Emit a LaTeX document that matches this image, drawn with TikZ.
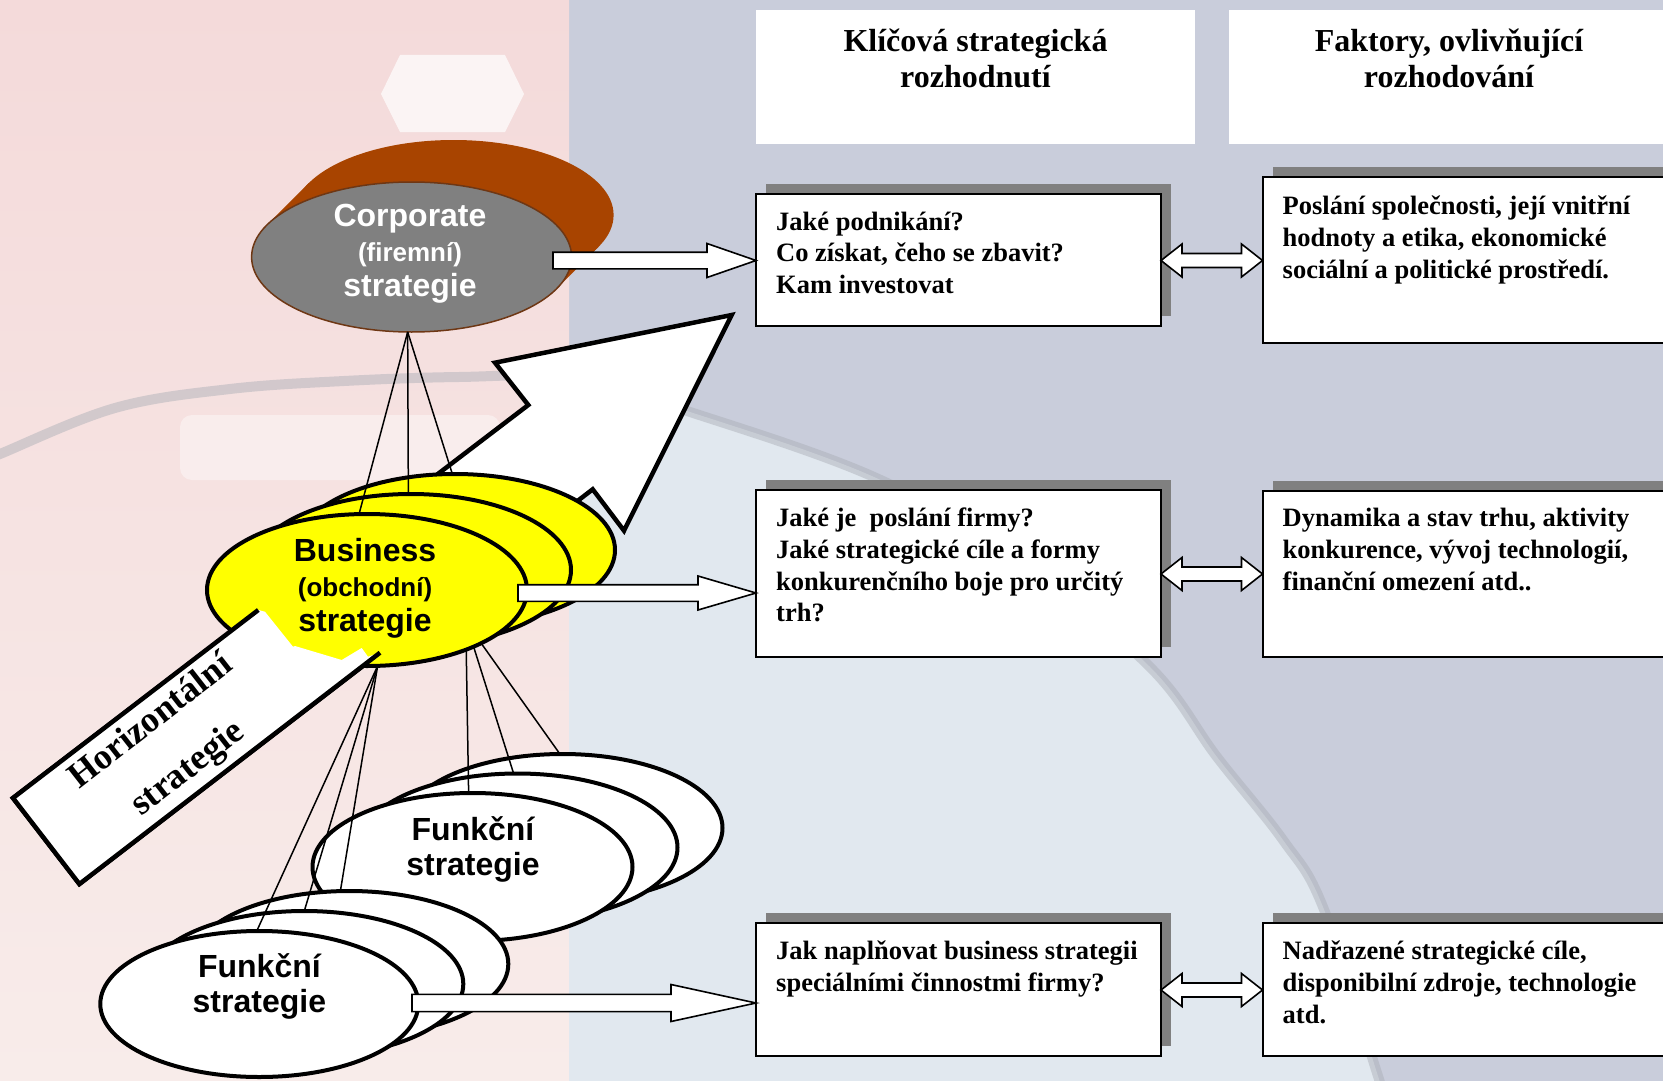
\documentclass[tikz,border=0pt]{standalone}
\usepackage{fontspec}
\setmainfont{Liberation Serif}
\setsansfont{Liberation Sans}
\usetikzlibrary{calc,shapes.geometric,shadows}

\definecolor{bgblue}{RGB}{201,205,219}
\definecolor{pinktop}{RGB}{244,218,218}
\definecolor{pinkbot}{RGB}{248,236,234}
\definecolor{globelight}{RGB}{230,237,243}
\definecolor{arcgray}{RGB}{168,172,180}
\definecolor{shadowgray}{RGB}{128,128,128}
\definecolor{corpgray}{RGB}{128,128,128}
\definecolor{corpbrown}{RGB}{168,68,0}
\definecolor{corprim}{RGB}{110,55,20}
\definecolor{bizyellow}{RGB}{255,255,0}

% wide hollow arrow: tail, tip, head length, head half-height, shaft half-height
\newcommand{\blockarrow}[5]{%
  \draw[rowarrow] ($(#1)+(0,-#5)$) -- ($(#2)+(-#3,-#5)$) -- ($(#2)+(-#3,-#4)$) -- (#2)
     -- ($(#2)+(-#3,#4)$) -- ($(#2)+(-#3,#5)$) -- ($(#1)+(0,#5)$) -- cycle;}
% hollow double-headed arrow between two tips
\newcommand{\twowayarrow}[2]{%
  \draw[rowarrow] (#1) -- ($(#1)+(21,-16.5)$) -- ($(#1)+(21,-7)$) -- ($(#2)+(-21,-7)$)
     -- ($(#2)+(-21,-16.5)$) -- (#2) -- ($(#2)+(-21,16.5)$) -- ($(#2)+(-21,7)$)
     -- ($(#1)+(21,7)$) -- ($(#1)+(21,16.5)$) -- cycle;}

\begin{document}
\begin{tikzpicture}[x=1pt,y=-1pt,
  hdrbox/.style={anchor=north west,fill=white,draw=none,inner sep=0pt,outer sep=0pt},
  hdrtext/.style={anchor=north,inner sep=0pt,align=center,
    font=\fontsize{32}{36.5}\selectfont\bfseries},
  qbox/.style={anchor=north west,fill=white,draw=black,line width=2pt,inner sep=0pt,outer sep=0pt,
    general shadow={shadow xshift=10pt,shadow yshift=10pt,fill=shadowgray}},
  boxtext/.style={anchor=north west,inner sep=0pt,align=left,
    font=\fontsize{26.5}{31.6}\selectfont\bfseries},
  stratoval/.style={ellipse,draw=black,line width=4pt,inner sep=0pt,outer sep=0pt,
    minimum width=320pt,minimum height=152pt},
  ovaltext/.style={inner sep=0pt,align=center,font=\sffamily\bfseries\fontsize{32}{35}\selectfont},
  link/.style={draw=black,line width=1.5pt},
  rowarrow/.style={fill=white,draw=black,line width=1.6pt,line join=miter},
  bigarrow/.style={fill=white,draw=black,line width=4.5pt,line join=miter}
]
\useasboundingbox (0,0) rectangle (1663,1081);
\clip (0,0) rectangle (1663,1081);

% ---------- background ----------
\fill[bgblue] (0,0) rectangle (1663,1081);
\shade[top color=pinktop,bottom color=pinkbot] (0,0) rectangle (569,1081);
\begin{scope}
  \clip (569,0) rectangle (1663,1081);
  \fill[globelight,opacity=0.85] plot[smooth,tension=0.6] coordinates {(459,377) (574,378) (684,410)
    (874,477) (1020,560) (1150,667) (1217,757) (1283,840) (1323,907) (1377,1073) (1385,1100)}
    -- (1385,1100) -- (459,1100) -- cycle;
\end{scope}
\draw[arcgray,line width=10pt,opacity=0.45,line cap=round] plot[smooth,tension=0.6] coordinates {(-10,458)
  (0,454) (115,408) (230,389) (344,381) (459,377) (574,378) (684,410) (874,477) (1020,560)
  (1150,667) (1217,757) (1283,840) (1323,907) (1377,1073) (1385,1100)};
\fill[white,opacity=0.7] (400,55) -- (505,55) -- (524,94) -- (505,132) -- (400,132) -- (381,94) -- cycle;
\fill[white,opacity=0.4,rounded corners=12pt] (180,415) rectangle (500,480);

% ---------- column headers ----------
\node[hdrbox,minimum width=439pt,minimum height=133.5pt] (h1) at (756,10) {};
\node[hdrbox,minimum width=471.4pt,minimum height=133.5pt] (h2) at (1228.6,10) {};
\node[hdrtext] (h1t) at ($(h1.north)+(0,15.5)$) {\strut Klíčová strategická\\rozhodnutí};
\node[hdrtext] (h2t) at ($(h2.north west)+(220.4,15.5)$) {\strut Faktory, ovlivňující\\rozhodování};

% ---------- decision and factor boxes ----------
\node[qbox,minimum width=405pt,minimum height=132.5pt] (q1) at (756,193.5) {};
\node[qbox,minimum width=405pt,minimum height=167pt] (q2) at (756,490) {};
\node[qbox,minimum width=405pt,minimum height=132.5pt] (q3) at (756,923) {};
\node[qbox,minimum width=437.5pt,minimum height=166pt] (r1) at (1262.5,177) {};
\node[qbox,minimum width=437.5pt,minimum height=166pt] (r2) at (1262.5,491) {};
\node[qbox,minimum width=437.5pt,minimum height=132.5pt] (r3) at (1262.5,923) {};

\node[boxtext] (q1t) at ($(q1.north west)+(20,14.5)$)
  {\strut Jaké podnikání?\\Co získat, čeho se zbavit?\\Kam investovat};
\node[boxtext] (q2t) at ($(q2.north west)+(20,14.5)$)
  {\strut Jaké je\ \ poslání firmy?\\Jaké strategické cíle a formy\\konkurenčního boje pro určitý\\trh?};
\node[boxtext] (q3t) at ($(q3.north west)+(20,14.5)$)
  {\strut Jak naplňovat business strategii\\speciálními činnostmi firmy?};
\node[boxtext] (r1t) at ($(r1.north west)+(20,15.5)$)
  {\strut Poslání společnosti, její vnitřní\\hodnoty a etika, ekonomické\\sociální a politické prostředí.};
\node[boxtext] (r2t) at ($(r2.north west)+(20,13.5)$)
  {\strut Dynamika a stav trhu, aktivity\\konkurence, vývoj technologií,\\finanční omezení atd..};
\node[boxtext] (r3t) at ($(r3.north west)+(20,14.5)$)
  {\strut Nadřazené strategické cíle,\\disponibilní zdroje, technologie\\atd.};

% ---------- corporate strategy disc ----------
\coordinate (corpc) at (411.6,257);
\fill[corpbrown] ($(corpc)+(42,-42)$) ellipse [x radius=160pt,y radius=75pt];
\fill[corpbrown] ($(corpc)+(144.9,31.8)$) -- ($(corpc)+(186.9,-10.2)$)
  -- ($(corpc)+(-102.9,-73.8)$) -- ($(corpc)+(-144.9,-31.8)$) -- cycle;
\node[ellipse,fill=corpgray,draw=corprim,line width=1.5pt,inner sep=0pt,outer sep=0pt,
  minimum width=320pt,minimum height=150pt] (corp) at (corpc) {};
\node[ovaltext,text=white] (corpt) at (410,254)
  {Corporate\\{\fontsize{26}{35}\selectfont (firemní)}\\strategie};

% ---------- horizontal strategy arrow ----------
\coordinate (hzA) at (13,798);
\coordinate (hzB) at (79.4,884);
\coordinate (hzN1) at (528.3,405);
\coordinate (hzW1) at (495,362.7);
\coordinate (hzT) at (731.7,315);
\coordinate (hzW2) at (624,530.7);
\coordinate (hzN2) at (592.7,489.3);
\draw[bigarrow] (hzA) -- (hzN1) -- (hzW1) -- (hzT) -- (hzW2) -- (hzN2) -- (hzB) -- cycle;

% ---------- business strategy stack ----------
\node[stratoval,fill=bizyellow] (busB) at (455,550) {};
\node[stratoval,fill=bizyellow] (busM) at (411,570) {};
\node[stratoval,fill=bizyellow] (busF) at (367,590) {};

% tail of the horizontal arrow lying over the business stack
\coordinate (hzP1) at (258.3,610);
\coordinate (hzP2) at (380,652.7);
\fill[white] (hzA) -- (hzP1) -- (265,611.7) -- (293,646.7) -- (295,646) -- (341.7,660)
  -- (361.7,648) -- (368,656.7) -- (hzP2) -- (hzB) -- cycle;
\draw[line width=4.5pt,line join=miter] (hzP1) -- (hzA) -- (hzB) -- (hzP2);
\node[rotate=38,inner sep=0pt,align=center,font=\fontsize{36}{60}\selectfont\bfseries]
  (hzt) at (170,746) {Horizontální\\strategie};

\node[ovaltext] (bust) at (365,588) {Business\\{\fontsize{26}{35}\selectfont (obchodní)}\\strategie};

% ---------- functional strategy stacks ----------
\node[stratoval,fill=white,minimum height=148pt] (ffB) at (562.5,828) {};
\node[stratoval,fill=white,minimum height=148pt] (ffM) at (517.5,847.5) {};
\node[stratoval,fill=white,minimum height=148pt] (ffF) at (472.5,867) {};
\node[stratoval,fill=white,minimum width=318pt,minimum height=146pt] (flB) at (349.3,964) {};
\node[stratoval,fill=white,minimum width=318pt,minimum height=146pt] (flM) at (304.3,984) {};
\node[stratoval,fill=white,minimum width=318pt,minimum height=146pt] (flF) at (259.3,1004) {};

% ---------- hierarchy links ----------
\draw[link] (corp.-93) -- (busF.96);
\draw[link] (corp.-93) -- (busM.92);
\draw[link] (corp.-93) -- (busB.92);
\draw[link] (busF.-31) -- (ffF.93);
\draw[link] (busF.-28) -- (ffM.93);
\draw[link] (busF.-25.6) -- (ffB.92);
\draw[link] (busF.-82) -- (flF.92);
\draw[link] (busF.-82) -- (flM.90);
\draw[link] (busF.-82) -- (flB.97);

\node[ovaltext] (fft) at (473,849.5) {Funkční\\strategie};
\node[ovaltext] (flt) at (259.4,986.4) {Funkční\\strategie};

% ---------- arrows to decision boxes ----------
\coordinate (ca) at (553,260.5);
\coordinate (cb) at (q1.west |- ca);
\blockarrow{ca}{cb}{49}{17}{8.3}
\coordinate (ba) at (518,593);
\coordinate (bb) at (q2.west |- ba);
\blockarrow{ba}{bb}{58}{17}{8.3}
\coordinate (fa) at (412,1003);
\coordinate (fb) at (q3.west |- fa);
\blockarrow{fa}{fb}{85}{18.5}{8.6}

% ---------- two-way arrows between columns ----------
\coordinate (y1) at (0,260.5);
\coordinate (y2) at (0,574);
\coordinate (y3) at (0,990);
\coordinate (d1l) at (q1.east |- y1);
\coordinate (d1r) at (r1.west |- y1);
\coordinate (d2l) at (q2.east |- y2);
\coordinate (d2r) at (r2.west |- y2);
\coordinate (d3l) at (q3.east |- y3);
\coordinate (d3r) at (r3.west |- y3);
\twowayarrow{d1l}{d1r}
\twowayarrow{d2l}{d2r}
\twowayarrow{d3l}{d3r}
\end{tikzpicture}
\end{document}
